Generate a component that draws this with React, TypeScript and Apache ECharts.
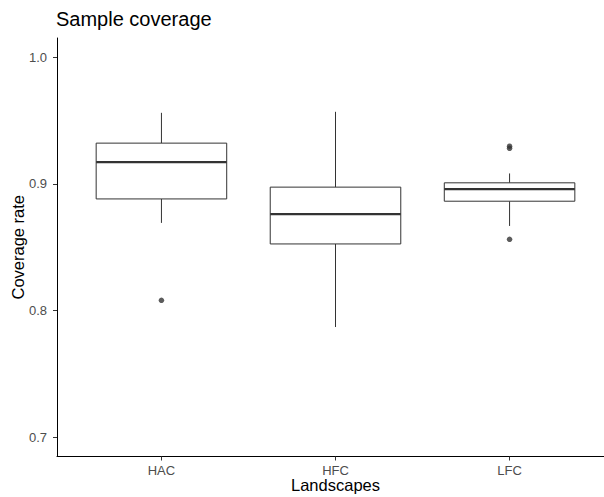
import React, { useEffect, useRef } from "react";
import * as echarts from "echarts";

const categories = ["HAC", "HFC", "LFC"];
const lowerWhisker = [0.8692, 0.7871, 0.8668];
const q1 = [0.8881, 0.8526, 0.8863];
const median = [0.9171, 0.8761, 0.8958];
const q3 = [0.9321, 0.8974, 0.9008];
const upperWhisker = [0.956, 0.9568, 0.9082];

const outlierGroup = [1, 3, 3, 3];
const outlierValue = [0.8082, 0.8563, 0.9297, 0.928];

const yTicks = [0.7, 0.8, 0.9, 1.0];
const xTicks = [1, 2, 3];

const FONT = "'Liberation Sans', Arial, sans-serif";
const INK = "#333333";

export default function App() {
  const ref = useRef<HTMLDivElement>(null);

  useEffect(() => {
    if (!ref.current) return;
    const chart = echarts.init(ref.current, undefined, { renderer: "svg" });

    const boxData = categories.map((_, i) => [
      i + 1,
      lowerWhisker[i],
      q1[i],
      median[i],
      q3[i],
      upperWhisker[i],
    ]);
    const outlierData = outlierGroup.map((g, i) => [g, outlierValue[i]]);

    chart.setOption({
      animation: false,
      backgroundColor: "#ffffff",
      title: {
        text: "Sample coverage",
        left: 56,
        top: 9,
        padding: 0,
        textStyle: {
          fontFamily: FONT,
          fontSize: 20,
          fontWeight: "normal",
          color: "#000000",
        },
      },
      grid: {
        left: 57,
        top: 38,
        width: 557,
        height: 418.5,
        containLabel: false,
        outerBoundsMode: "none",
      },
      xAxis: {
        type: "value",
        min: 0.4,
        max: 3.6,
        name: "Landscapes",
        nameLocation: "middle",
        nameGap: 20,
        nameMoveOverlap: false,
        nameTextStyle: {
          fontFamily: FONT,
          fontSize: 16.5,
          lineHeight: 17,
          color: "#000000",
          verticalAlign: "top",
        },
        axisLine: { show: true, onZero: false, lineStyle: { color: "#000000", width: 1 } },
        axisTick: {
          show: true,
          length: 4,
          customValues: xTicks,
          lineStyle: { color: INK, width: 1 },
        },
        axisLabel: {
          customValues: xTicks,
          margin: 7,
          fontFamily: FONT,
          fontSize: 13,
          lineHeight: 13,
          color: "#4D4D4D",
          formatter: (v: number) => categories[Math.round(v) - 1] ?? "",
        },
        splitLine: { show: false },
      },
      yAxis: {
        type: "value",
        min: 0.685,
        max: 1.015,
        name: "Coverage rate",
        nameLocation: "middle",
        nameGap: 31,
        nameMoveOverlap: false,
        nameTextStyle: {
          fontFamily: FONT,
          fontSize: 16.5,
          color: "#000000",
        },
        axisLine: { show: true, onZero: false, lineStyle: { color: "#000000", width: 1 } },
        axisTick: {
          show: true,
          length: 4,
          customValues: yTicks,
          lineStyle: { color: INK, width: 1 },
        },
        axisLabel: {
          customValues: yTicks,
          margin: 10,
          fontFamily: FONT,
          fontSize: 13,
          color: "#4D4D4D",
          formatter: (v: number) => v.toFixed(1),
        },
        splitLine: { show: false },
      },
      series: [
        {
          type: "custom",
          name: "box",
          data: boxData,
          encode: { x: 0, y: [1, 2, 3, 4, 5] },
          renderItem: (_params: any, api: any) => {
            const x = api.value(0);
            const lo = api.coord([x, api.value(1)]);
            const b1 = api.coord([x, api.value(2)]);
            const md = api.coord([x, api.value(3)]);
            const b3 = api.coord([x, api.value(4)]);
            const hi = api.coord([x, api.value(5)]);
            const half = api.size([0.75, 0])[0] / 2;
            return {
              type: "group",
              children: [
                {
                  type: "line",
                  shape: { x1: hi[0], y1: hi[1], x2: b3[0], y2: b3[1] },
                  style: { stroke: INK, lineWidth: 1 },
                },
                {
                  type: "line",
                  shape: { x1: b1[0], y1: b1[1], x2: lo[0], y2: lo[1] },
                  style: { stroke: INK, lineWidth: 1 },
                },
                {
                  type: "rect",
                  shape: {
                    x: b3[0] - half,
                    y: b3[1],
                    width: 2 * half,
                    height: b1[1] - b3[1],
                  },
                  style: { fill: "#ffffff", stroke: INK, lineWidth: 1 },
                },
                {
                  type: "line",
                  shape: { x1: md[0] - half, y1: md[1], x2: md[0] + half, y2: md[1] },
                  style: { stroke: INK, lineWidth: 2.2 },
                },
              ],
            };
          },
        },
        {
          type: "scatter",
          name: "outliers",
          data: outlierData,
          symbol: "circle",
          symbolSize: 5.5,
          itemStyle: { color: INK },
        },
      ],
    });

    return () => chart.dispose();
  }, []);

  return (
    <div
      ref={ref}
      style={{ position: "fixed", left: 0, top: 0, width: 604, height: 497 }}
    />
  );
}
